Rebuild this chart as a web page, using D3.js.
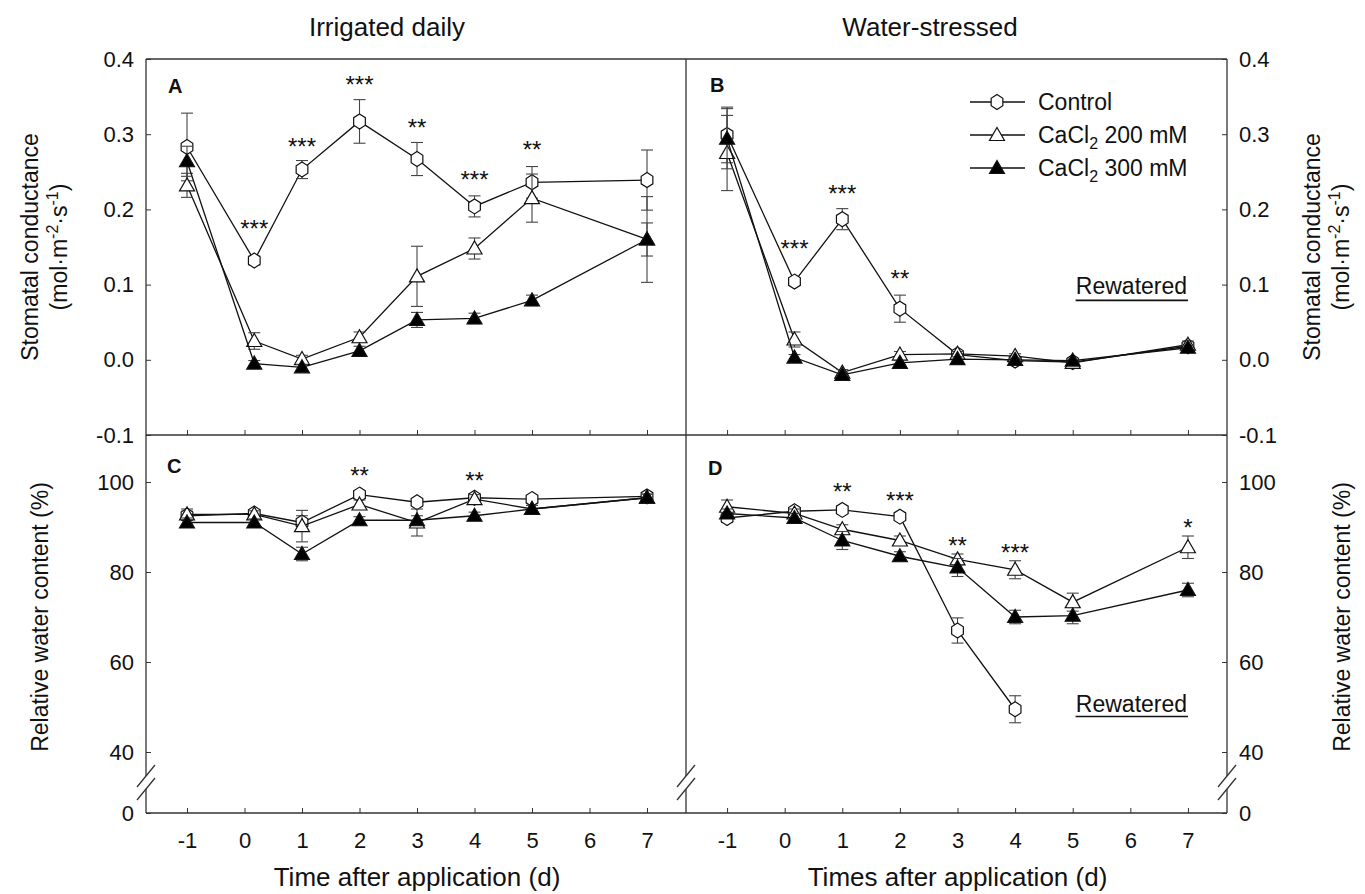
<!DOCTYPE html>
<html>
<head>
<meta charset="utf-8">
<script src="https://cdn.jsdelivr.net/npm/d3@7"></script>
<style>
  body { margin: 0; background: #fff; }
  text { font-family: "Liberation Sans", Arial, sans-serif; fill: #111; }
</style>
</head>
<body>
<div id="chart"></div>
<script>
// days on x (day 0 was measured a few hours after application)
var days = [-1, 0.17, 1, 2, 3, 4, 5, 7];
var dayTicks = [-1, 0, 1, 2, 3, 4, 5, 6, 7];
var gsTicks = [-0.1, 0.0, 0.1, 0.2, 0.3, 0.4];
var rwcTicks = [0, 40, 60, 80, 100];

// stomatal conductance, irrigated daily (panel A)
var gsIrrCtrl    = [0.283, 0.132, 0.253, 0.317, 0.267, 0.204, 0.236, 0.239];
var gsIrrCtrlErr = [0.045, 0.006, 0.012, 0.029, 0.022, 0.014, 0.021, 0.040];
var gsIrr200     = [0.232, 0.025, 0.001, 0.030, 0.111, 0.148, 0.215, 0.160];
var gsIrr200Err  = [0.016, 0.011, 0.005, 0.007, 0.040, 0.014, 0.032, 0.057];
var gsIrr300     = [0.264, -0.005, -0.010, 0.012, 0.053, 0.055, 0.079, 0.160];
var gsIrr300Err  = [0.020, 0.004, 0.004, 0.006, 0.010, 0.007, 0.007, 0.022];

// stomatal conductance, water-stressed (panel B)
var gsWsCtrl    = [0.299, 0.104, 0.187, 0.068, 0.007, -0.001, -0.003, 0.018];
var gsWsCtrlErr = [0.037, 0.005, 0.014, 0.018, 0.004, 0.004, 0.003, 0.004];
var gsWs200     = [0.275, 0.027, -0.017, 0.007, 0.008, 0.005, -0.004, 0.020];
var gsWs200Err  = [0.050, 0.010, 0.004, 0.004, 0.003, 0.003, 0.003, 0.005];
var gsWs300     = [0.294, 0.003, -0.020, -0.004, 0.001, 0.000, -0.001, 0.016];
var gsWs300Err  = [0.040, 0.004, 0.003, 0.003, 0.003, 0.002, 0.002, 0.003];

// relative water content, irrigated daily (panel C)
var rwcIrrCtrl    = [92.5, 93.0, 91.0, 97.2, 95.5, 96.5, 96.2, 96.8];
var rwcIrrCtrlErr = [1.0, 0.8, 1.5, 0.8, 0.8, 0.8, 0.8, 0.8];
var rwcIrr200     = [92.8, 92.8, 90.2, 95.0, 91.0, 96.2, 94.0, 96.5];
var rwcIrr200Err  = [1.2, 0.8, 3.5, 1.0, 3.0, 1.0, 0.8, 0.8];
var rwcIrr300     = [91.0, 91.0, 84.0, 91.5, 91.5, 92.5, 94.0, 96.5];
var rwcIrr300Err  = [1.0, 0.8, 1.5, 0.8, 1.0, 0.8, 0.8, 0.8];

// relative water content, water-stressed (panel D); control stops at day 4
var rwcWsCtrl    = [92.0, 93.5, 93.8, 92.3, 67.0, 49.5];
var rwcWsCtrlErr = [1.0, 0.8, 0.8, 0.8, 2.8, 3.0];
var rwcWs200     = [94.5, 93.0, 89.5, 87.0, 82.8, 80.5, 73.3, 85.5];
var rwcWs200Err  = [1.5, 1.0, 1.0, 1.0, 1.2, 2.0, 2.0, 2.5];
var rwcWs300     = [93.0, 92.0, 87.0, 83.5, 81.0, 70.0, 70.3, 76.0];
var rwcWs300Err  = [1.0, 1.0, 2.0, 1.0, 2.0, 1.5, 1.8, 1.5];

// significance marks: [day, level, label]
var starsA = [[0.17, 0.181, "***"], [1, 0.291, "***"], [2, 0.373, "***"], [3, 0.316, "**"], [4, 0.247, "***"], [5, 0.287, "**"]];
var starsB = [[0.17, 0.155, "***"], [1, 0.228, "***"], [2, 0.115, "**"]];
var starsC = [[2, 102.5, "**"], [4, 101.5, "**"]];
var starsD = [[1, 99, "**"], [2, 97, "***"], [3, 87, "**"], [4, 85.5, "***"], [7, 91, "*"]];

var legendNames = ["Control", "CaCl2 200 mM", "CaCl2 300 mM"];

// layout
var L = 146, M = 686, R = 1227, T = 59, MID = 435, B = 813;
var breakTop = 776, breakBot = 789;
var axisColor = "#333";

var svg = d3.select("#chart").append("svg")
    .attr("width", 1365)
    .attr("height", 894);

var xLeft = d3.scaleLinear().domain([-1.713, 7.678]).range([L, M]);
var xRight = d3.scaleLinear().domain([-1.713, 7.678]).range([M, R]);
var yGs = d3.scaleLinear().domain([-0.1, 0.4]).range([MID, T]);
var yRwc = d3.scaleLinear().domain([0, 40, 100]).range([B, 752, 482]);

var hexPath = (function () {
  var r = 7.5, pts = [];
  for (var i = 0; i < 6; i++) {
    var a = (-90 + 60 * i) * Math.PI / 180;
    pts.push([r * Math.cos(a) * 0.9, r * Math.sin(a)]);
  }
  return "M" + pts.join("L") + "Z";
})();
var triPath = "M0,-7.5L7.5,5.5L-7.5,5.5Z";

var shapes = [
  {path: hexPath, fill: "#fff"},
  {path: triPath, fill: "#fff"},
  {path: triPath, fill: "#000"}
];

function drawSeries(g, x, y, vals, errs, shape) {
  var pts = vals.map(function (v, i) { return {d: days[i], v: v, e: errs[i]}; });

  g.append("path")
      .datum(pts)
      .attr("fill", "none")
      .attr("stroke", "#111")
      .attr("stroke-width", 1.3)
      .attr("d", d3.line()
        .x(function (p) { return x(p.d); })
        .y(function (p) { return y(p.v); }));

  var eb = g.append("g").attr("stroke", "#444").attr("stroke-width", 1.1);
  eb.selectAll("line.bar").data(pts).enter().append("line")
      .attr("x1", function (p) { return x(p.d); })
      .attr("x2", function (p) { return x(p.d); })
      .attr("y1", function (p) { return y(p.v - p.e); })
      .attr("y2", function (p) { return y(p.v + p.e); });
  eb.selectAll("line.capTop").data(pts).enter().append("line")
      .attr("x1", function (p) { return x(p.d) - 6; })
      .attr("x2", function (p) { return x(p.d) + 6; })
      .attr("y1", function (p) { return y(p.v + p.e); })
      .attr("y2", function (p) { return y(p.v + p.e); });
  eb.selectAll("line.capBot").data(pts).enter().append("line")
      .attr("x1", function (p) { return x(p.d) - 6; })
      .attr("x2", function (p) { return x(p.d) + 6; })
      .attr("y1", function (p) { return y(p.v - p.e); })
      .attr("y2", function (p) { return y(p.v - p.e); });

  g.selectAll(null).data(pts).enter().append("path")
      .attr("d", shape.path)
      .attr("transform", function (p) { return "translate(" + x(p.d) + "," + y(p.v) + ")"; })
      .attr("fill", shape.fill)
      .attr("stroke", "#111")
      .attr("stroke-width", 1.2);
}

function drawPanel(x, y, series, stars, letter, lx, ly) {
  var g = svg.append("g");
  series.forEach(function (s, i) { drawSeries(g, x, y, s[0], s[1], shapes[i]); });

  g.selectAll("text.star").data(stars).enter().append("text")
      .attr("x", function (s) { return x(s[0]); })
      .attr("y", function (s) { return y(s[1]); })
      .attr("dy", "0.57em")
      .attr("text-anchor", "middle")
      .attr("font-size", 24)
      .text(function (s) { return s[2]; });

  svg.append("text")
      .attr("x", lx)
      .attr("y", ly)
      .attr("font-size", 20)
      .attr("font-weight", "bold")
      .text(letter);
}

drawPanel(xLeft, yGs, [[gsIrrCtrl, gsIrrCtrlErr], [gsIrr200, gsIrr200Err], [gsIrr300, gsIrr300Err]], starsA, "A", L + 22, T + 34);
drawPanel(xRight, yGs, [[gsWsCtrl, gsWsCtrlErr], [gsWs200, gsWs200Err], [gsWs300, gsWs300Err]], starsB, "B", M + 24, T + 33);
drawPanel(xLeft, yRwc, [[rwcIrrCtrl, rwcIrrCtrlErr], [rwcIrr200, rwcIrr200Err], [rwcIrr300, rwcIrr300Err]], starsC, "C", L + 21, MID + 38);
drawPanel(xRight, yRwc, [[rwcWsCtrl, rwcWsCtrlErr], [rwcWs200, rwcWs200Err], [rwcWs300, rwcWs300Err]], starsD, "D", M + 22, MID + 40);

// frame lines
var frame = svg.append("g").attr("stroke", axisColor).attr("stroke-width", 1.3).attr("fill", "none");
[[L, T, R, T], [L, MID, R, MID], [L, B, R, B]].forEach(function (c) {
  frame.append("line").attr("x1", c[0]).attr("y1", c[1]).attr("x2", c[2]).attr("y2", c[3]);
});
[L, M, R].forEach(function (xv) {
  frame.append("line").attr("x1", xv).attr("y1", T).attr("x2", xv).attr("y2", breakTop);
  frame.append("line").attr("x1", xv).attr("y1", breakBot).attr("x2", xv).attr("y2", B);
  frame.append("line").attr("x1", xv - 9).attr("y1", breakTop + 11).attr("x2", xv + 9).attr("y2", breakTop - 11);
  frame.append("line").attr("x1", xv - 9).attr("y1", breakBot + 11).attr("x2", xv + 9).attr("y2", breakBot - 11);
});

function styleAxis(g) {
  g.select(".domain").remove();
  g.attr("font-size", 22)
   .attr("font-family", "'Liberation Sans', Arial, sans-serif")
   .attr("color", axisColor);
  g.selectAll("text").attr("fill", "#111");
}

// plain hyphen for negatives, as in the figure
var fmtGs = function (d) { return d.toFixed(1); };
var fmtInt = function (d) { return String(d); };

// y axes
svg.append("g").attr("transform", "translate(" + L + ",0)")
    .call(d3.axisLeft(yGs).tickValues(gsTicks).tickSize(-5).tickPadding(12).tickFormat(fmtGs))
    .call(styleAxis);
svg.append("g").attr("transform", "translate(" + R + ",0)")
    .call(d3.axisRight(yGs).tickValues(gsTicks).tickSize(-5).tickPadding(12).tickFormat(fmtGs))
    .call(styleAxis);
svg.append("g").attr("transform", "translate(" + L + ",0)")
    .call(d3.axisLeft(yRwc).tickValues(rwcTicks).tickSize(-5).tickPadding(12).tickFormat(fmtInt))
    .call(styleAxis);
svg.append("g").attr("transform", "translate(" + R + ",0)")
    .call(d3.axisRight(yRwc).tickValues(rwcTicks).tickSize(-5).tickPadding(12).tickFormat(fmtInt))
    .call(styleAxis);

// x axes
[xLeft, xRight].forEach(function (x) {
  svg.append("g").attr("transform", "translate(0," + MID + ")")
      .call(d3.axisBottom(x).tickValues(dayTicks).tickSize(-5).tickFormat(""))
      .call(styleAxis);
  svg.append("g").attr("transform", "translate(0," + B + ")")
      .call(d3.axisBottom(x).tickValues(dayTicks).tickSize(-5).tickPadding(19).tickFormat(fmtInt))
      .call(styleAxis);
});

// titles
svg.append("text").attr("x", 387).attr("y", 36).attr("text-anchor", "middle").attr("font-size", 26).text("Irrigated daily");
svg.append("text").attr("x", 930).attr("y", 36).attr("text-anchor", "middle").attr("font-size", 26).text("Water-stressed");
svg.append("text").attr("x", (xLeft(-1) + xLeft(7)) / 2).attr("y", 886).attr("text-anchor", "middle").attr("font-size", 26).text("Time after application (d)");
svg.append("text").attr("x", (xRight(-1) + xRight(7)) / 2).attr("y", 886).attr("text-anchor", "middle").attr("font-size", 26).text("Times after application (d)");

function unitLabel(t) {
  t.append("tspan").text("(mol·m");
  t.append("tspan").attr("dy", -9).attr("font-size", 16).text("-2");
  t.append("tspan").attr("dy", 9).text("·s");
  t.append("tspan").attr("dy", -9).attr("font-size", 16).text("-1");
  t.append("tspan").attr("dy", 9).text(")");
}

var gsMid = (T + MID) / 2, rwcMid = (yRwc(40) + yRwc(100)) / 2;
function rotText(xp, yp) {
  return svg.append("text")
      .attr("transform", "translate(" + xp + "," + yp + ") rotate(-90)")
      .attr("text-anchor", "middle")
      .attr("font-size", 23);
}
rotText(38, gsMid).text("Stomatal conductance");
rotText(67, gsMid).call(unitLabel);
rotText(48, rwcMid).text("Relative water content (%)");
rotText(1320, gsMid).text("Stomatal conductance");
rotText(1349, gsMid).call(unitLabel);
rotText(1350, rwcMid).text("Relative water content (%)");

// legend
var leg = svg.append("g");
legendNames.forEach(function (name, i) {
  var ly = T + 43 + i * 33;
  leg.append("line").attr("x1", M + 284).attr("x2", M + 339).attr("y1", ly).attr("y2", ly)
      .attr("stroke", "#111").attr("stroke-width", 1.3);
  leg.append("path").attr("d", shapes[i].path)
      .attr("transform", "translate(" + (M + 311) + "," + ly + ")")
      .attr("fill", shapes[i].fill).attr("stroke", "#111").attr("stroke-width", 1.2);
  var t = leg.append("text").attr("x", M + 352).attr("y", ly + 8).attr("font-size", 23);
  if (name.indexOf("CaCl2") === 0) {
    t.append("tspan").text("CaCl");
    t.append("tspan").attr("dy", 6).attr("font-size", 16).text("2");
    t.append("tspan").attr("dy", -6).text(name.slice(5));
  } else {
    t.text(name);
  }
});

// "Rewatered" notes
function rewatered(yScale, vText, vLine) {
  svg.append("text")
      .attr("x", xRight(6.02)).attr("y", yScale(vText))
      .attr("text-anchor", "middle").attr("font-size", 23)
      .text("Rewatered");
  svg.append("line")
      .attr("x1", xRight(5.05)).attr("x2", xRight(7.0))
      .attr("y1", yScale(vLine)).attr("y2", yScale(vLine))
      .attr("stroke", "#111").attr("stroke-width", 1.6);
}
rewatered(yGs, 0.087, 0.079);
rewatered(yRwc, 49, 47.9);
</script>
</body>
</html>
